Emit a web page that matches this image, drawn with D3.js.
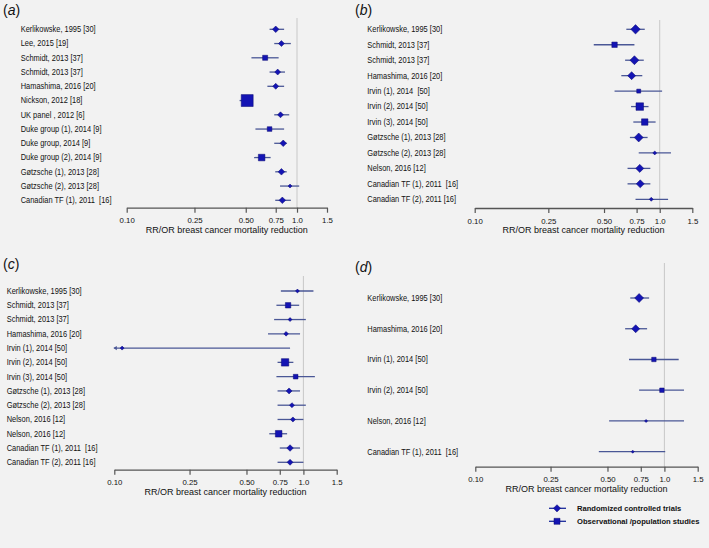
<!DOCTYPE html>
<html>
<head>
<meta charset="utf-8">
<script src="https://cdn.jsdelivr.net/npm/d3@7"></script>
<style>
  body { margin: 0; background: #f2f2f2; }
  text { font-family: "Liberation Sans", Arial, sans-serif; fill: #111; }
</style>
</head>
<body>
<div id="chart"></div>
<script>
// svg area
var svgWidth = 709;
var svgHeight = 548;

// tick labels shared by all panels
var tickValues = [0.10, 0.25, 0.50, 0.75, 1.0, 1.5];
var tickLabels = ['0.10', '0.25', '0.50', '0.75', '1.0', '1.5'];

// panel (a)
var labelsA = ['Kerlikowske, 1995 [30]', 'Lee, 2015 [19]', 'Schmidt, 2013 [37]', 'Schmidt, 2013 [37]',
    'Hamashima, 2016 [20]', 'Nickson, 2012 [18]', 'UK panel , 2012 [6]', 'Duke group (1), 2014 [9]',
    'Duke group, 2014 [9]', 'Duke group (2), 2014 [9]', 'Gøtzsche (1), 2013 [28]',
    'Gøtzsche (2), 2013 [28]', 'Canadian TF (1), 2011  [16]'];
var estA = [0.75, 0.81, 0.65, 0.77, 0.75, 0.51, 0.80, 0.69, 0.83, 0.62, 0.81, 0.91, 0.82];
var lowA = [0.69, 0.735, 0.54, 0.69, 0.67, 0.46, 0.735, 0.57, 0.735, 0.56, 0.745, 0.795, 0.745];
var highA = [0.84, 0.92, 0.78, 0.85, 0.84, 0.55, 0.90, 0.84, 0.87, 0.70, 0.87, 1.03, 0.92];
var typeA = ['RCT', 'RCT', 'OBS', 'RCT', 'RCT', 'OBS', 'RCT', 'OBS', 'RCT', 'OBS', 'RCT', 'RCT', 'RCT'];
var weightA = [22, 18, 13, 18, 18, 73, 18, 11, 22, 22, 22, 8, 22];

// panel (b)
var labelsB = ['Kerlikowske, 1995 [30]', 'Schmidt, 2013 [37]', 'Schmidt, 2013 [37]', 'Hamashima, 2016 [20]',
    'Irvin (1), 2014  [50]', 'Irvin (2), 2014 [50]', 'Irvin (3), 2014 [50]', 'Gøtzsche (1), 2013 [28]',
    'Gøtzsche (2), 2013 [28]', 'Nelson, 2016 [12]', 'Canadian TF (1), 2011  [16]', 'Canadian TF (2), 2011 [16]'];
var estB = [0.74, 0.57, 0.73, 0.705, 0.77, 0.78, 0.83, 0.77, 0.94, 0.78, 0.785, 0.90];
var lowB = [0.66, 0.44, 0.65, 0.62, 0.57, 0.70, 0.72, 0.69, 0.77, 0.67, 0.67, 0.74];
var highB = [0.83, 0.73, 0.82, 0.805, 1.03, 0.87, 0.95, 0.86, 1.15, 0.89, 0.89, 1.11];
var typeB = ['RCT', 'OBS', 'RCT', 'RCT', 'OBS', 'OBS', 'OBS', 'RCT', 'RCT', 'RCT', 'RCT', 'RCT'];
var weightB = [45, 15, 41, 33, 8, 29, 21, 41, 8, 33, 33, 8];

// panel (c)
var labelsC = ['Kerlikowske, 1995 [30]', 'Schmidt, 2013 [37]', 'Schmidt, 2013 [37]', 'Hamashima, 2016 [20]',
    'Irvin (1), 2014 [50]', 'Irvin (2), 2014 [50]', 'Irvin (3), 2014 [50]', 'Gøtzsche (1), 2013 [28]',
    'Gøtzsche (2), 2013 [28]', 'Nelson, 2016 [12]', 'Nelson, 2016 [12]', 'Canadian TF (1), 2011  [16]',
    'Canadian TF (2), 2011 [16]'];
var estC = [0.93, 0.83, 0.85, 0.81, 0.11, 0.80, 0.91, 0.84, 0.87, 0.88, 0.74, 0.85, 0.85];
var lowC = [0.76, 0.72, 0.70, 0.65, 0.10, 0.73, 0.72, 0.73, 0.73, 0.73, 0.66, 0.75, 0.73];
var highC = [1.13, 0.95, 1.03, 0.96, 0.85, 0.885, 1.15, 0.96, 1.03, 1.0, 0.82, 0.96, 1.0];
var typeC = ['RCT', 'OBS', 'RCT', 'RCT', 'RCT', 'OBS', 'OBS', 'RCT', 'RCT', 'RCT', 'OBS', 'RCT', 'RCT'];
var weightC = [8, 15, 8, 11, 8, 28, 11, 18, 13, 13, 22, 22, 18];

// panel (d)
var labelsD = ['Kerlikowske, 1995 [30]', 'Hamashima, 2016 [20]', 'Irvin (1), 2014 [50]', 'Irvin (2), 2014 [50]',
    'Nelson, 2016 [12]', 'Canadian TF (1), 2011  [16]'];
var estD = [0.735, 0.705, 0.88, 0.97, 0.80, 0.68];
var lowD = [0.66, 0.62, 0.65, 0.735, 0.51, 0.45];
var highD = [0.83, 0.81, 1.19, 1.27, 1.27, 1.01];
var typeD = ['RCT', 'RCT', 'OBS', 'OBS', 'RCT', 'RCT'];
var weightD = [41, 33, 10, 10, 5, 5];

var legendLabels = ['Randomized controlled trials', 'Observational /population studies'];
var legendTypes = ['RCT', 'OBS'];

var ciColor = '#4a5796';
var markColor = '#1414b4';
var markStroke = '#0a0a70';

var svg = d3.select('#chart')
    .append('svg')
    .attr('width', svgWidth)
    .attr('height', svgHeight);

svg.append('rect')
    .attr('width', svgWidth)
    .attr('height', svgHeight)
    .attr('fill', '#f2f2f2');

// marker half-size from study weight
var sizeScale = d3.scaleSqrt().domain([0, 100]).range([0, 7]);

function markerPath(type, h) {
    if (type === 'RCT') {
        return `M0,${-h}L${h},0L0,${h}L${-h},0Z`;
    }
    return `M${-h},${-h}H${h}V${h}H${-h}Z`;
}

// squeeze text a little so it reads like the narrow original
function squeeze(sel, factor) {
    sel.each(function () {
        var len = this.getComputedTextLength();
        d3.select(this)
            .attr('textLength', len * factor)
            .attr('lengthAdjust', 'spacingAndGlyphs');
    });
}

function drawPanel(p, labels, est, low, high, type, weight) {

    var rows = labels.map(function (l, i) {
        return { label: l, est: est[i], low: low[i], high: high[i], type: type[i], weight: weight[i], i: i };
    });

    var xScale = d3.scaleLog()
        .domain([0.10, 1.5])
        .range([p.x0, p.x1]);

    var yScale = d3.scalePoint()
        .domain(rows.map(d => d.i))
        .range([p.yTop, p.yBottom]);

    var g = svg.append('g');

    // panel letter
    var letter = g.append('text')
        .attr('x', p.letterX)
        .attr('y', p.letterY)
        .style('font-size', '14px');
    letter.append('tspan').text('(');
    letter.append('tspan').style('font-style', 'italic').text(p.letter);
    letter.append('tspan').text(')');

    // reference line at 1.0
    g.append('line')
        .attr('x1', xScale(1))
        .attr('x2', xScale(1))
        .attr('y1', p.refTop)
        .attr('y2', p.axisY)
        .attr('stroke', '#c8c8c8')
        .attr('stroke-width', 1);

    // x axis
    var bottomAxis = d3.axisBottom(xScale)
        .tickValues(tickValues)
        .tickFormat((d, i) => tickLabels[i])
        .tickSize(5)
        .tickPadding(5)
        .tickSizeOuter(0);

    var xAxis = g.append('g')
        .attr('transform', `translate(0, ${p.axisY})`)
        .call(bottomAxis);

    xAxis.select('.domain').attr('stroke', '#555').attr('stroke-width', 1.3);
    xAxis.selectAll('.tick line').attr('stroke', '#555').attr('stroke-width', 1.2);
    xAxis.selectAll('.tick text')
        .style('font-size', '7.8px')
        .style('font-family', '"Liberation Sans", Arial, sans-serif')
        .attr('fill', '#111');

    g.append('text')
        .attr('x', (p.x0 + p.x1) / 2)
        .attr('y', p.axisY + p.titleDy)
        .attr('text-anchor', 'middle')
        .style('font-size', '9px')
        .text('RR/OR breast cancer mortality reduction');

    // study labels
    g.selectAll('.study')
        .data(rows)
        .enter()
        .append('text')
        .attr('class', 'study')
        .attr('x', p.labelX)
        .attr('y', d => yScale(d.i))
        .attr('dy', '0.35em')
        .style('font-size', '8.2px')
        .style('white-space', 'pre')
        .attr('xml:space', 'preserve')
        .text(d => d.label)
        .call(squeeze, 0.91);

    // confidence intervals
    g.selectAll('.ci')
        .data(rows)
        .enter()
        .append('line')
        .attr('class', 'ci')
        .attr('x1', d => xScale(Math.max(d.low, 0.10)))
        .attr('x2', d => xScale(d.high))
        .attr('y1', d => yScale(d.i))
        .attr('y2', d => yScale(d.i))
        .attr('stroke', ciColor)
        .attr('stroke-width', 1.3);

    // truncated intervals get an arrow at the axis minimum
    g.selectAll('.arrow')
        .data(rows.filter(d => d.low <= 0.10))
        .enter()
        .append('path')
        .attr('class', 'arrow')
        .attr('transform', d => `translate(${xScale(0.10)}, ${yScale(d.i)})`)
        .attr('d', 'M-1,0L2.5,-2.2L2.5,2.2Z')
        .attr('fill', ciColor);

    // point estimates
    g.selectAll('.mark')
        .data(rows)
        .enter()
        .append('path')
        .attr('class', 'mark')
        .attr('transform', d => `translate(${xScale(d.est)}, ${yScale(d.i)})`)
        .attr('d', d => markerPath(d.type, sizeScale(d.weight)))
        .attr('fill', markColor)
        .attr('stroke', markStroke)
        .attr('stroke-width', 0.5);
}

drawPanel({ letter: 'a', letterX: 3, letterY: 15, x0: 126.7, x1: 327, axisY: 207.7, titleDy: 25,
    yTop: 29.3, yBottom: 200.3, labelX: 20.7, refTop: 18 },
    labelsA, estA, lowA, highA, typeA, weightA);

drawPanel({ letter: 'b', letterX: 355, letterY: 15, x0: 474.7, x1: 692.3, axisY: 208, titleDy: 25,
    yTop: 29.3, yBottom: 199.3, labelX: 367.3, refTop: 20 },
    labelsB, estB, lowB, highB, typeB, weightB);

drawPanel({ letter: 'c', letterX: 3, letterY: 269, x0: 114.3, x1: 336.7, axisY: 469.7, titleDy: 25,
    yTop: 291, yBottom: 462.3, labelX: 6.7, refTop: 276 },
    labelsC, estC, lowC, highC, typeC, weightC);

drawPanel({ letter: 'd', letterX: 355, letterY: 272, x0: 475.3, x1: 697.7, axisY: 466.7, titleDy: 25,
    yTop: 298, yBottom: 451.7, labelX: 367.3, refTop: 263 },
    labelsD, estD, lowD, highD, typeD, weightD);

// legend
var legendY = d3.scalePoint().domain([0, 1]).range([508.3, 521.3]);
var legend = svg.append('g');

legendTypes.forEach(function (t, i) {
    var y = legendY(i);
    legend.append('line')
        .attr('x1', 549).attr('x2', 566)
        .attr('y1', y).attr('y2', y)
        .attr('stroke', '#1a2a9a')
        .attr('stroke-width', 1.3);
    legend.append('path')
        .attr('transform', `translate(557, ${y})`)
        .attr('d', markerPath(t, t === 'RCT' ? 3.6 : 3))
        .attr('fill', markColor)
        .attr('stroke', markStroke)
        .attr('stroke-width', 0.5);
    legend.append('text')
        .attr('x', 577)
        .attr('y', y)
        .attr('dy', '0.3em')
        .style('font-size', '7.6px')
        .style('font-weight', 'bold')
        .text(legendLabels[i]);
});
</script>
</body>
</html>
